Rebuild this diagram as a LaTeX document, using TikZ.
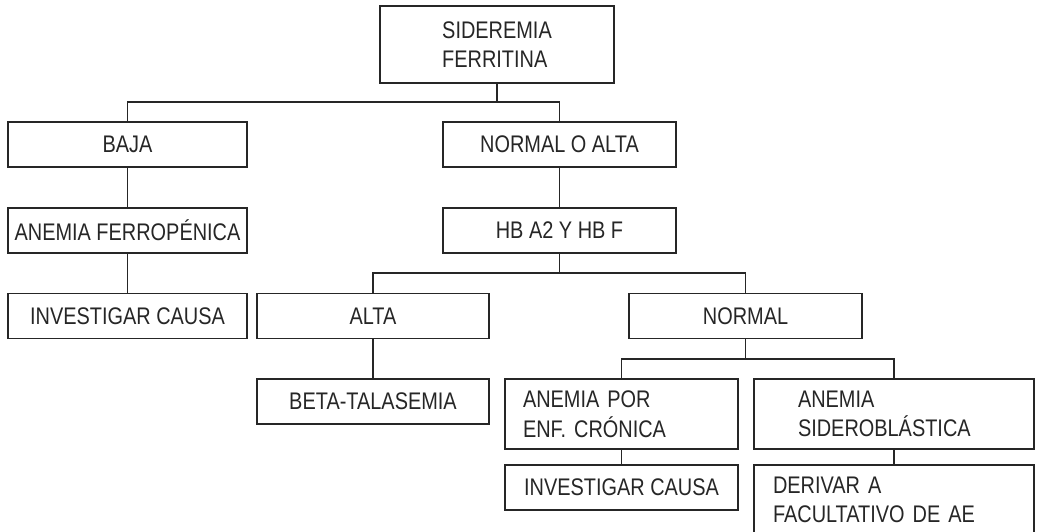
\documentclass[tikz,border=0pt]{standalone}
\usepackage{fontspec}
\setmainfont{Liberation Sans}[FakeStretch=0.83]
\begin{document}
\begin{tikzpicture}[x=1pt, y=-1pt]
	\tikzstyle{box}  = [rectangle, draw=black!85, line width=1.2pt, text=black!85, minimum height=45pt, inner sep=0pt, font=\fontsize{24}{29.5}\selectfont]
	\tikzstyle{link} = [draw=black!85, line width=1.2pt]

	\useasboundingbox (0,0) rectangle (1038,532);
	\clip (0,0) rectangle (1038,532);

	\node[box, minimum width=234pt, minimum height=77pt, align=left] (sider) at (497,44.5) {SIDEREMIA\\FERRITINA};

	\foreach \name/\x/\y/\w/\txt in {baja/127.5/144.5/239/BAJA, normalalta/559.5/144.5/233/NORMAL O ALTA,
			ferrop/127.5/230.5/239/ANEMIA FERROPÉNICA, hb/559.5/230.5/233/HB A2 Y HB F,
			invest1/127.5/316/239/INVESTIGAR CAUSA, alta/373/316/232/ALTA, normal/745.5/316/233/NORMAL,
			beta/373/401.5/232/BETA-TALASEMIA, invest2/621.5/487.5/233/INVESTIGAR CAUSA}
		\node[box, minimum width=\w pt] (\name) at (\x,\y) {\txt};

	\node[box, minimum height=70pt, align=left, text width=197pt, inner xsep=18pt] (cronica) at (621.5,414) {ANEMIA POR\\ENF. CRÓNICA};
	\node[box, minimum height=70pt, align=left, text width=192pt, inner xsep=44pt] (sidero) at (894,414) {ANEMIA\\SIDEROBLÁSTICA};
	\node[box, minimum height=70pt, align=left, text width=242pt, inner xsep=19pt] (derivar) at (894,500) {DERIVAR A\\FACULTATIVO DE AE};

	\coordinate (bus1) at (0,102);
	\coordinate (bus2) at (0,273);
	\coordinate (bus3) at (0,359);

	\foreach \from/\to in {baja/ferrop, ferrop/invest1, normalalta/hb, alta/beta, cronica/invest2, sidero/derivar}
		\draw[link] (\from) -- (\to);

	\foreach \from/\lkid/\rkid/\bus in {sider/baja/normalalta/bus1, hb/alta/normal/bus2, normal/cronica/sidero/bus3}
		\draw[link] (\from) -- (\from |- \bus) (\lkid) |- (\rkid |- \bus) -- (\rkid);
\end{tikzpicture}
\end{document}
